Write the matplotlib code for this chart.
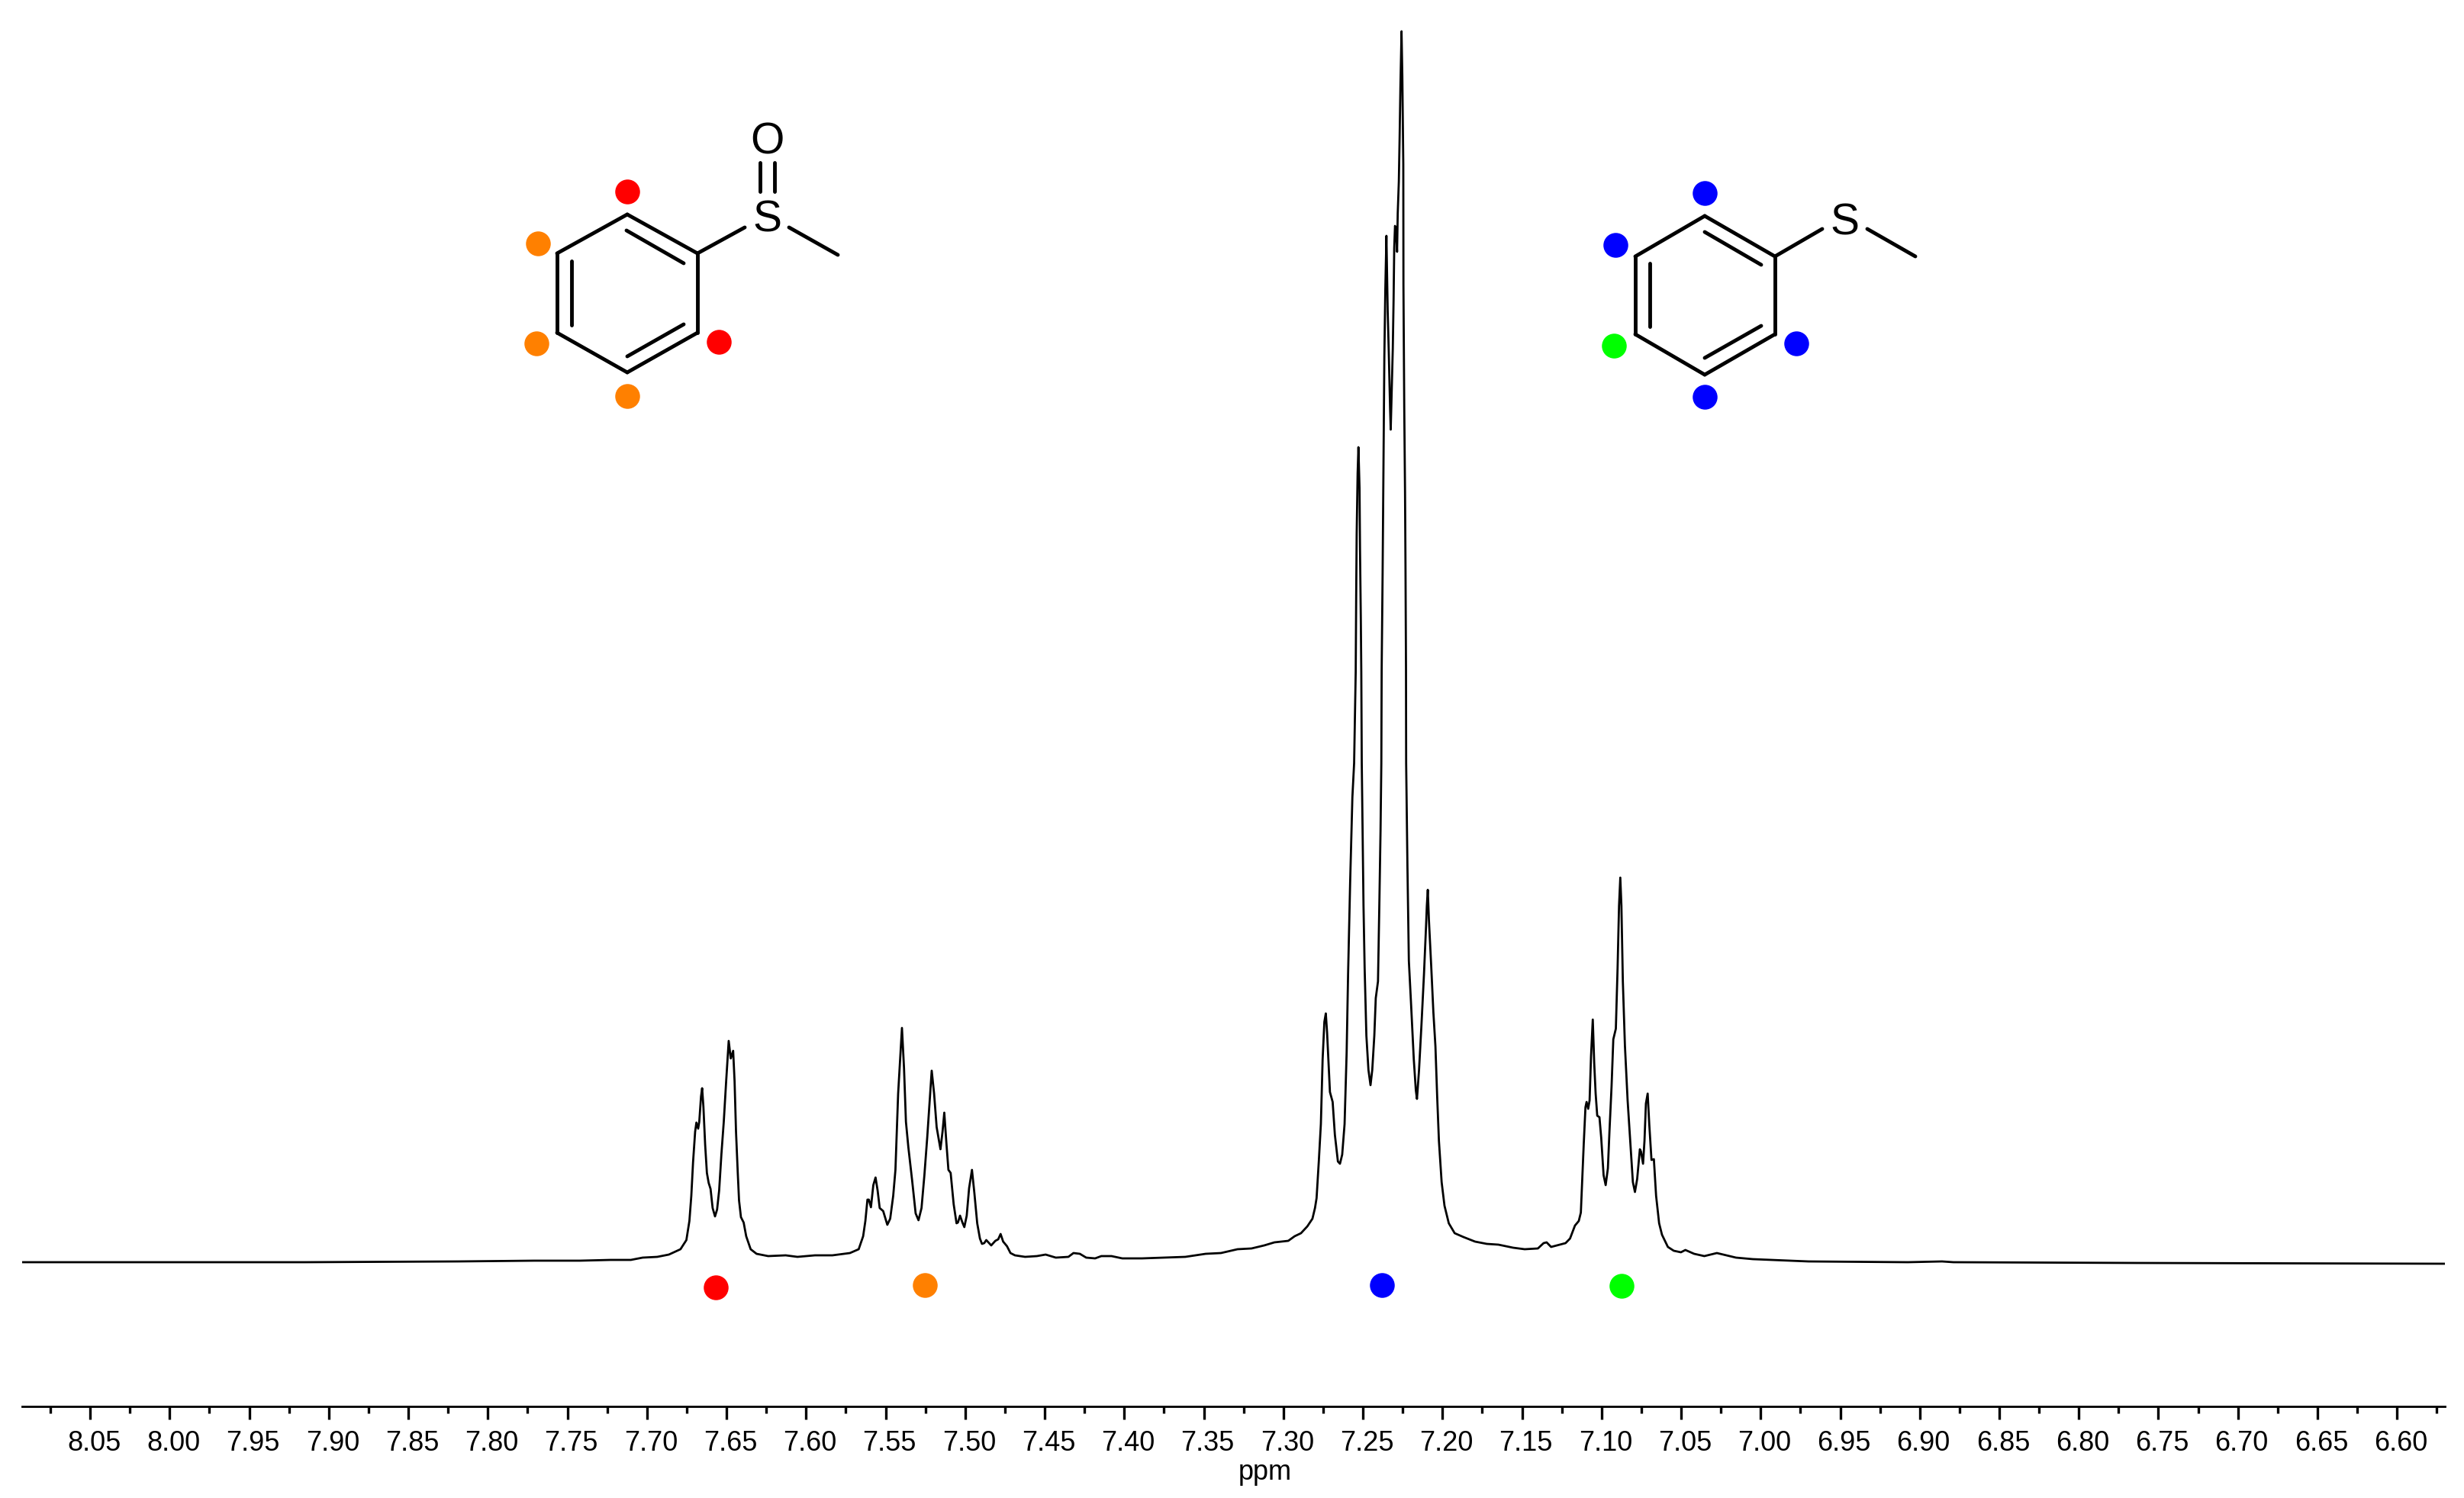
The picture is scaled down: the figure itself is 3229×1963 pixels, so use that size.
import numpy as np
import matplotlib
matplotlib.use("Agg")
import matplotlib.pyplot as plt
from matplotlib.transforms import ScaledTranslation

plt.rcParams['font.family'] = ['Liberation Sans', 'DejaVu Sans']

# spectrum, chemical shift (ppm) and intensity (arbitrary units)
left_ppm = [8.0927, 7.9148, 7.8188, 7.7709, 7.7421,
            7.7229, 7.7101, 7.7027, 7.6935, 7.6862, 7.6789, 7.6752, 7.6733, 7.6721, 7.6710,
            7.6697, 7.6689, 7.6678, 7.6671, 7.6660, 7.6653, 7.6645, 7.6634, 7.6623, 7.6612,
            7.6600, 7.6587, 7.6572, 7.6559, 7.6546, 7.6532, 7.6517, 7.6502, 7.6486, 7.6473,
            7.6458, 7.6449, 7.6440, 7.6429, 7.6421, 7.6409, 7.6392, 7.6376, 7.6348, 7.6311,
            7.6238, 7.6128, 7.6054, 7.5944, 7.5834]
left_int = [3, 3, 4, 5, 5,
            6, 6, 9, 10, 13, 20, 32, 57, 90, 134,
            174, 186, 178, 187, 220, 231, 207, 157, 120, 107,
            99, 74, 63, 72, 97, 144, 187, 240, 293, 270,
            280, 240, 174, 120, 84, 62, 55, 37, 20, 14,
            11, 12, 10, 12, 12]

mid_ppm = [7.5724, 7.5669, 7.5641, 7.5627, 7.5614, 7.5605, 7.5592, 7.5577, 7.5563, 7.5550,
           7.5537, 7.5515, 7.5489, 7.5471, 7.5452, 7.5438, 7.5421, 7.5397, 7.5384, 7.5372,
           7.5357, 7.5333, 7.5311, 7.5293, 7.5274, 7.5256, 7.5238, 7.5225, 7.5210, 7.5195,
           7.5179, 7.5155, 7.5142, 7.5131, 7.5118, 7.5105, 7.5091, 7.5072, 7.5054, 7.5045,
           7.5032, 7.5017, 7.5005, 7.4990, 7.4975, 7.4957, 7.4942, 7.4924, 7.4907, 7.4894,
           7.4880, 7.4867, 7.4836, 7.4810, 7.4792, 7.4777, 7.4761, 7.4737, 7.4715, 7.4687,
           7.4623, 7.4549, 7.4494, 7.4430, 7.4351]
mid_int = [15, 20, 37, 57, 85, 85, 75, 104, 114, 97,
           74, 70, 52, 60, 90, 124, 224, 310, 257, 187,
           154, 110, 67, 58, 74, 117, 167, 207, 254, 224,
           180, 151, 174, 199, 160, 124, 120, 79, 54, 55,
           64, 55, 49, 64, 100, 124, 94, 54, 34, 27,
           28, 32, 25, 31, 33, 40, 30, 24, 15, 12,
           10, 11, 13, 9, 10]

gap_ppm = [7.4319, 7.4279, 7.4239, 7.4183, 7.4144, 7.4080, 7.4012, 7.3888, 7.3744, 7.3616,
           7.3488, 7.3392, 7.3288, 7.3200, 7.3120, 7.3056, 7.2969, 7.2929, 7.2889, 7.2849,
           7.2817, 7.2801, 7.2791]
gap_int = [15, 14, 9, 8, 11, 11, 8, 8, 9, 10,
           14, 15, 20, 21, 25, 29, 31, 37, 41, 50,
           60, 74, 87]

main_ppm = [7.2777, 7.2764, 7.2753, 7.2742, 7.2733, 7.2725, 7.2716, 7.2707, 7.2690, 7.2676,
            7.2657, 7.2644, 7.2630, 7.2615, 7.2602, 7.2593, 7.2580, 7.2566, 7.2555, 7.2545,
            7.2542, 7.2539, 7.2533, 7.2528, 7.2521, 7.2518, 7.2513, 7.2510, 7.2507, 7.2496,
            7.2489, 7.2478, 7.2465, 7.2452, 7.2441, 7.2428, 7.2419, 7.2405, 7.2396, 7.2389,
            7.2384, 7.2382, 7.2376, 7.2370, 7.2365, 7.2359, 7.2352, 7.2344, 7.2337, 7.2329,
            7.2325, 7.2318, 7.2312, 7.2307, 7.2303, 7.2298, 7.2292, 7.2285, 7.2281, 7.2274,
            7.2269, 7.2264, 7.2257, 7.2252, 7.2246, 7.2245, 7.2240, 7.2235, 7.2232, 7.2229,
            7.2228, 7.2220, 7.2211, 7.2198, 7.2180, 7.2167, 7.2160, 7.2147, 7.2132, 7.2116,
            7.2103, 7.2098, 7.2092, 7.2085, 7.2070, 7.2057, 7.2044, 7.2033, 7.2022, 7.2005,
            7.1987, 7.1960, 7.1923, 7.1868, 7.1795, 7.1721, 7.1648, 7.1556, 7.1483, 7.1400]
main_int = [135, 184, 269, 318, 329, 304, 264, 226, 213, 170,
            135, 132, 144, 184, 278, 380, 501, 612, 657, 777,
            877, 957, 1037, 1071, 1017, 937, 847, 777, 657, 470,
            389, 300, 255, 235, 255, 300, 349, 371, 478, 568,
            657, 777, 904, 1057, 1190, 1277, 1348, 1249, 1194, 1122,
            1094, 1152, 1200, 1264, 1332, 1361, 1357, 1327, 1377, 1419,
            1477, 1544, 1616, 1557, 1442, 1283, 1124, 1012, 911, 782,
            657, 523, 398, 345, 269, 228, 217, 255, 313, 380,
            443, 470, 491, 452, 389, 331, 286, 220, 162, 108,
            77, 54, 41, 36, 30, 27, 26, 22, 20, 21]

right_ppm = [7.1364, 7.1345, 7.1317, 7.1281, 7.1226, 7.1198, 7.1167, 7.1143, 7.1130, 7.1121,
             7.1112, 7.1101, 7.1094, 7.1084, 7.1075, 7.1066, 7.1055, 7.1046, 7.1037, 7.1027,
             7.1013, 7.1002, 7.0987, 7.0974, 7.0960, 7.0950, 7.0937, 7.0926, 7.0910, 7.0899,
             7.0890, 7.0882, 7.0875, 7.0866, 7.0853, 7.0836, 7.0818, 7.0803, 7.0790, 7.0776,
             7.0759, 7.0752, 7.0739, 7.0730, 7.0721, 7.0710, 7.0700, 7.0686, 7.0671, 7.0657,
             7.0638, 7.0620, 7.0583, 7.0546, 7.0501, 7.0473, 7.0418, 7.0354, 7.0275, 7.0155,
             7.0049, 6.9699, 6.9075, 6.8860, 6.8788, 6.7637, 6.5699]
right_int = [28, 29, 23, 25, 28, 34, 51, 57, 68, 112,
             157, 206, 213, 204, 215, 273, 321, 264, 224, 195,
             193, 166, 117, 104, 126, 175, 233, 295, 309, 389,
             470, 507, 470, 371, 287, 215, 157, 108, 95, 112,
             151, 148, 132, 162, 211, 224, 184, 137, 138, 90,
             54, 39, 23, 18, 16, 19, 14, 11, 15, 9,
             7, 4, 3, 4, 3, 2, 1]

# coloured dots under the multiplets
dot_ppm = [7.6567, 7.5251, 7.2378, 7.0873]
dot_int = [-30, -27, -27, -28]
dot_colors = ['#ff0000', '#ff8000', '#0000ff', '#00ff00']

major_ticks = np.arange(6.60, 8.051, 0.05)
minor_ticks = np.arange(6.575, 8.076, 0.05)

# molecule drawings, in picture pixels
sulfoxide_bonds = [
    [(822, 281), (914, 332)], [(914, 332), (914, 436)], [(914, 436), (822, 488)],
    [(822, 488), (730, 436)], [(730, 436), (730, 332)], [(730, 332), (822, 281)],
    [(821, 302), (896, 345)], [(749, 342), (749, 426)], [(822, 467), (896, 425)],
    [(914, 332), (976, 298)], [(1034, 298), (1098, 334)],
    [(996, 213), (996, 251)], [(1015, 213), (1015, 251)],
]
sulfoxide_dots = [(822, 251, '#ff0000'), (705, 319, '#ff8000'), (703, 450, '#ff8000'),
                  (942, 448, '#ff0000'), (822, 519, '#ff8000')]
sulfide_bonds = [
    [(2234, 283), (2326, 336)], [(2326, 336), (2326, 438)], [(2326, 438), (2234, 491)],
    [(2234, 491), (2143, 438)], [(2143, 438), (2143, 336)], [(2143, 336), (2234, 283)],
    [(2234, 304), (2308, 347)], [(2162, 345), (2162, 428)], [(2234, 469), (2308, 427)],
    [(2326, 336), (2388, 300)], [(2447, 300), (2510, 336)],
]
sulfide_dots = [(2234, 253, '#0000ff'), (2117, 321, '#0000ff'), (2115, 453, '#00ff00'),
                (2354, 450, '#0000ff'), (2234, 520, '#0000ff')]
atom_labels = [(1005, 283, 'S'), (1005, 180, 'O'), (2417, 286, 'S')]

ppm = np.concatenate([left_ppm, mid_ppm, gap_ppm, main_ppm, right_ppm])
intensity = np.concatenate([left_int, mid_int, gap_int, main_int, right_int])

W, H = 3230, 1963
fig = plt.figure(figsize=(W / 100, H / 100), dpi=100, facecolor='white')

ax = fig.add_axes([29 / W, (H - 1843) / H, (3204 - 29) / W, 1843 / H])
ax.plot(ppm, intensity, color='black', lw=2.0, solid_joinstyle='round', zorder=2)
for p, i, c in zip(dot_ppm, dot_int, dot_colors):
    ax.plot(p, i, 'o', color=c, ms=23.4, mew=0, zorder=3)

ax.set_xlim(8.0927, 6.5699)
ax.set_ylim(-186, 1657)
for s in ['top', 'left', 'right']:
    ax.spines[s].set_visible(False)
ax.spines['bottom'].set_linewidth(2.0)
ax.set_yticks([])
ax.set_xticks(major_ticks)
ax.set_xticklabels(['%.2f' % t for t in major_ticks], fontsize=26)
ax.set_xticks(minor_ticks, minor=True)
ax.tick_params(axis='x', which='major', length=12.2, width=2.4, pad=10)
ax.tick_params(axis='x', which='minor', length=6.6, width=2.4)
# numbers sit a little right of their ticks in the reference
shift = ScaledTranslation(5 / 100, 0, fig.dpi_scale_trans)
for lab in ax.get_xticklabels():
    lab.set_transform(lab.get_transform() + shift)
ax.set_xlabel('ppm', fontsize=26, x=(1658 - 29) / (3204 - 29), labelpad=2)

# overlay in pixel coordinates for the structures
ov = fig.add_axes([0, 0, 1, 1], facecolor='none')
ov.set_xlim(0, W)
ov.set_ylim(H, 0)
ov.axis('off')
for bond in sulfoxide_bonds + sulfide_bonds:
    ov.plot([bond[0][0], bond[1][0]], [bond[0][1], bond[1][1]], color='black', lw=3.5,
            solid_capstyle='round')
for x, y, c in sulfoxide_dots + sulfide_dots:
    ov.plot(x, y, 'o', color=c, ms=23.4, mew=0)
for x, y, t in atom_labels:
    ov.text(x, y, t, fontsize=41, ha='center', va='center_baseline', color='black')

fig.savefig('out.png', dpi=100)
